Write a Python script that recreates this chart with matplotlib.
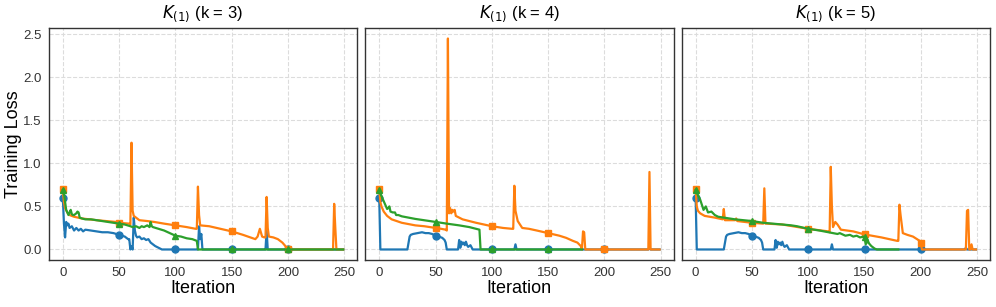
import matplotlib
matplotlib.use("Agg")
import matplotlib.pyplot as plt

plt.rcParams['font.family'] = ['Liberation Sans', 'DejaVu Sans']

# ---- k = 3 ----
k3_blue_it = [0, 1, 2, 3, 4, 5, 6, 8, 10, 12, 14, 16, 18, 20, 25, 30, 35, 40, 45, 50, 55, 58, 59,
              60, 61, 62, 63, 64, 65, 66, 68, 70, 72, 74, 76, 78, 80, 82, 85, 88, 100, 119, 120,
              121, 122, 123, 124, 150, 179, 180, 181, 182, 200, 249]
k3_blue_loss = [0.60, 0.30, 0.14, 0.32, 0.28, 0.30, 0.25, 0.27, 0.22, 0.25, 0.22, 0.24, 0.21, 0.23,
                0.22, 0.21, 0.20, 0.20, 0.19, 0.17, 0.15, 0.12, 0.12,
                0.00, 0.04, 0.00, 0.37, 0.22, 0.16, 0.14, 0.15, 0.12, 0.13, 0.11, 0.12, 0.08, 0.06,
                0.04, 0.02, 0.00, 0.00, 0.00, 0.00,
                0.27, 0.12, 0.18, 0.00, 0.00, 0.00, 0.00, 0.22, 0.00, 0.00, 0.00]

k3_orange_it = [0, 1, 2, 4, 6, 10, 17, 30, 47, 50, 59, 60, 61, 62, 63, 65, 68, 75, 81, 90, 100, 110,
                118, 119, 120, 121, 122, 130, 140, 150, 160, 171, 173, 175, 177, 179, 180, 181, 182,
                183, 187, 191, 195, 197, 200, 240, 241, 242, 243, 249]
k3_orange_loss = [0.70, 0.55, 0.48, 0.43, 0.40, 0.38, 0.36, 0.34, 0.32, 0.31, 0.30, 0.29, 1.24,
                  0.45, 0.39, 0.37, 0.34, 0.33, 0.32, 0.30, 0.28, 0.26, 0.24, 0.24, 0.73, 0.40,
                  0.28, 0.27, 0.24, 0.21, 0.17, 0.12, 0.15, 0.24, 0.15, 0.14, 0.14, 0.61, 0.25,
                  0.15, 0.14, 0.12, 0.08, 0.05, 0.00, 0.00, 0.53, 0.25, 0.00, 0.00]

k3_green_it = [0, 1, 3, 5, 6, 7, 8, 9, 10, 12, 13, 14, 15, 17, 20, 25, 30, 40, 50, 55, 60, 62, 65,
               68, 70, 72, 75, 77, 78, 79, 80, 85, 90, 95, 100, 105, 110, 115, 119, 120, 150, 200, 249]
k3_green_loss = [0.69, 0.65, 0.46, 0.40, 0.43, 0.46, 0.41, 0.40, 0.40, 0.42, 0.44, 0.43, 0.37, 0.36,
                 0.35, 0.35, 0.34, 0.32, 0.30, 0.29, 0.27, 0.26, 0.27, 0.25, 0.27, 0.26, 0.28,
                 0.26, 0.32, 0.27, 0.26, 0.24, 0.22, 0.19, 0.16, 0.15, 0.13, 0.12, 0.10, 0.00,
                 0.00, 0.00, 0.00]

# ---- k = 4 ----
k4_blue_it = [0, 1, 25, 27, 28, 30, 34, 38, 41, 44, 47, 50, 53, 56, 58, 59, 60, 70, 71, 72, 73, 74,
              75, 76, 77, 78, 79, 81, 83, 100, 120, 121, 122, 150, 200, 239, 240, 241, 249]
k4_blue_loss = [0.60, 0.00, 0.00, 0.15, 0.17, 0.18, 0.19, 0.20, 0.19, 0.19, 0.18, 0.16, 0.15, 0.135,
                0.11, 0.08, 0.00, 0.00, 0.11, 0.02, 0.09, 0.06, 0.08, 0.05, 0.09, 0.05, 0.03,
                0.05, 0.00, 0.00, 0.00, 0.06, 0.00, 0.00, 0.00, 0.00, 0.02, 0.00, 0.00]

k4_orange_it = [0, 1, 2, 4, 7, 11, 20, 32, 40, 45, 50, 55, 59, 60, 61, 62, 63, 64, 65, 66, 67, 68,
                74, 86, 100, 110, 118, 119, 120, 121, 123, 127, 133, 140, 150, 160, 166, 172, 176,
                179, 180, 181, 182, 183, 200, 239, 240, 241, 249]
k4_orange_loss = [0.70, 0.55, 0.50, 0.44, 0.39, 0.35, 0.31, 0.28, 0.27, 0.26, 0.25, 0.24, 0.23,
                  0.22, 2.45, 0.42, 0.48, 0.42, 0.46, 0.44, 0.46, 0.39, 0.35, 0.31, 0.27, 0.25,
                  0.24, 0.24, 0.74, 0.45, 0.33, 0.25, 0.24, 0.22, 0.19, 0.16, 0.135, 0.10, 0.08,
                  0.04, 0.00, 0.21, 0.20, 0.00, 0.00, 0.00, 0.90, 0.00, 0.00]

k4_green_it = [0, 1, 4, 7, 8, 9, 10, 12, 14, 15, 17, 20, 32, 50, 60, 71, 80, 89, 90, 100, 150, 180]
k4_green_loss = [0.69, 0.65, 0.56, 0.47, 0.48, 0.50, 0.44, 0.43, 0.43, 0.40, 0.40, 0.385, 0.355,
                 0.32, 0.30, 0.28, 0.26, 0.23, 0.00, 0.00, 0.00, 0.00]

# ---- k = 5 ----
k5_blue_it = [0, 1, 25, 27, 28, 30, 34, 38, 41, 44, 47, 50, 53, 56, 58, 59, 60, 70, 71, 72, 73, 74,
              75, 76, 77, 78, 79, 81, 83, 100, 120, 121, 122, 150, 200, 239, 240, 241, 249]
k5_blue_loss = [0.60, 0.00, 0.00, 0.15, 0.17, 0.18, 0.19, 0.20, 0.19, 0.19, 0.18, 0.16, 0.15, 0.135,
                0.11, 0.08, 0.00, 0.00, 0.11, 0.02, 0.09, 0.06, 0.08, 0.05, 0.09, 0.05, 0.03,
                0.05, 0.00, 0.00, 0.00, 0.06, 0.00, 0.00, 0.00, 0.00, 0.02, 0.00, 0.00]

k5_orange_it = [0, 1, 2, 4, 8, 17, 24, 25, 26, 35, 36, 37, 50, 60, 61, 62, 63, 77, 100, 118, 119,
                120, 121, 122, 124, 126, 129, 140, 150, 165, 179, 180, 181, 182, 184, 188, 193,
                199, 200, 201, 240, 241, 242, 243, 244, 245, 246, 249]
k5_orange_loss = [0.70, 0.50, 0.45, 0.42, 0.39, 0.37, 0.35, 0.47, 0.34, 0.34, 0.36, 0.33, 0.31,
                  0.30, 0.71, 0.30, 0.30, 0.29, 0.24, 0.21, 0.20, 0.96, 0.50, 0.26, 0.32, 0.29,
                  0.23, 0.21, 0.175, 0.14, 0.10, 0.10, 0.52, 0.40, 0.19, 0.17, 0.15, 0.10, 0.07,
                  0.00, 0.00, 0.45, 0.46, 0.00, 0.00, 0.06, 0.00, 0.00]

k5_green_it = [0, 1, 4, 7, 9, 11, 14, 17, 20, 25, 35, 50, 60, 77, 85, 90, 100, 110, 118, 122, 126,
               128, 133, 137, 140, 143, 146, 149, 150, 151, 153, 154, 156, 159, 161, 180]
k5_green_loss = [0.69, 0.66, 0.58, 0.46, 0.50, 0.43, 0.44, 0.40, 0.38, 0.37, 0.35, 0.33, 0.31,
                 0.29, 0.28, 0.27, 0.24, 0.22, 0.20, 0.19, 0.18, 0.19, 0.16, 0.17, 0.15, 0.16,
                 0.14, 0.15, 0.14, 0.06, 0.10, 0.07, 0.04, 0.01, 0.00, 0.00]

ks = [3, 4, 5]
blue_data = [(k3_blue_it, k3_blue_loss), (k4_blue_it, k4_blue_loss), (k5_blue_it, k5_blue_loss)]
orange_data = [(k3_orange_it, k3_orange_loss), (k4_orange_it, k4_orange_loss), (k5_orange_it, k5_orange_loss)]
green_data = [(k3_green_it, k3_green_loss), (k4_green_it, k4_green_loss), (k5_green_it, k5_green_loss)]


def marks(it):
    # a marker on every 50th iteration
    return [i for i, v in enumerate(it) if v % 50 == 0]


fig, axes = plt.subplots(1, 3, figsize=(9.96, 3.07), dpi=100, sharey=True)
fig.subplots_adjust(left=0.049, right=0.994, bottom=0.153, top=0.909, wspace=0.026)

for ax, k, b, o, g in zip(axes, ks, blue_data, orange_data, green_data):
    ax.plot(b[0], b[1], color='#1f77b4', lw=1.6, marker='o', ms=5, markevery=marks(b[0]))
    ax.plot(o[0], o[1], color='#ff7f0e', lw=1.6, marker='s', ms=5, markevery=marks(o[0]))
    ax.plot(g[0], g[1], color='#2ca02c', lw=1.6, marker='^', ms=5, markevery=marks(g[0]))
    ax.set_title(r'$K_{(1)}$ (k = %d)' % k, fontsize=12, pad=7)
    ax.set_xlabel('Iteration', fontsize=13, labelpad=1)
    ax.grid(True, linestyle='--', color='#dcdcdc', lw=0.8)
    ax.set_axisbelow(True)
    ax.set_xticks([0, 50, 100, 150, 200, 250])
    ax.set_yticks([0.0, 0.5, 1.0, 1.5, 2.0, 2.5])
    ax.tick_params(length=0, pad=5, labelsize=9.5, labelcolor='#333333')
    for s in ax.spines.values():
        s.set_color('#333333')
        s.set_linewidth(1.0)

axes[0].set_ylabel('Training Loss', fontsize=13)
axes[0].yaxis.set_label_coords(-0.088, 0.5)

plt.savefig('out.png', dpi=100)
